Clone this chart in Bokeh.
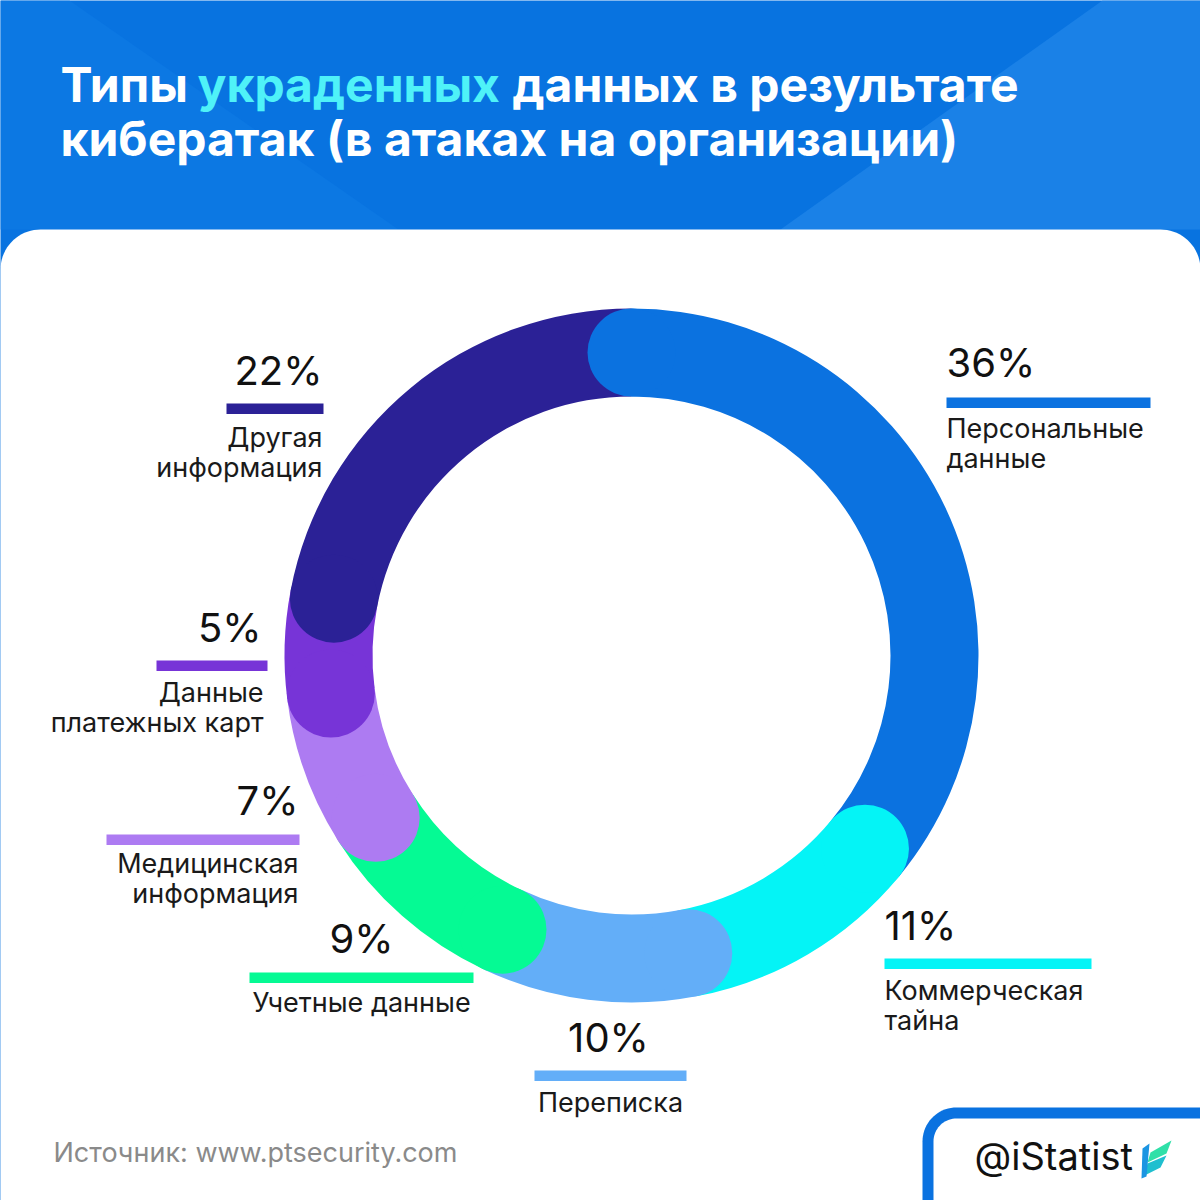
import numpy as np
from bokeh.plotting import figure
from bokeh.models import Range1d, ColumnDataSource
from bokeh.core.properties import value, field
from bokeh.embed import file_html
from bokeh.resources import INLINE

# ---------------- data ----------------
categories = ["Персональные данные", "Коммерческая тайна", "Переписка", "Учетные данные",
              "Медицинская информация", "Данные платежных карт", "Другая информация"]
shares = [36, 11, 10, 9, 7, 5, 22]
colors = ["#0b72e0", "#04f4f6", "#63aef8", "#05fa94", "#ad7bf2", "#7734d7", "#2b2196"]
label_lines = [["Персональные", "данные"], ["Коммерческая", "тайна"], ["Переписка"],
               ["Учетные данные"], ["Медицинская", "информация"],
               ["Данные", "платежных карт"], ["Другая", "информация"]]
title_line1 = ["Типы", "украденных", "данных в результате"]
title_line2 = "кибератак (в атаках на организации)"
source_text = "Источник: www.ptsecurity.com"
brand_text = "@iStatist"

# ---------------- layout (pixel coords, y down) ----------------
W = H = 1200
K = 0.38  # baseline correction (fraction of font size)

def Y(py):
    return H - np.asarray(py, dtype=float)

def YT(py, size):
    return H - (np.asarray(py, dtype=float) - K * size)

lay_align = ["left", "left", "center", "center", "right", "right", "right"]
lay_pct_x = [946, 884, 608, 361, 298, 261, 322]
lay_pct_y = [377, 940, 1052, 953, 815, 642, 385]
lay_text_x = [946, 884, 610, 361, 298, 263, 322]
lay_line1_y = [438, 1000, 1112, 1012, 873, 702, 447]
lay_line_gap = 30
lay_bar_x0 = [946, 884, 534, 249, 106, 156, 226]
lay_bar_x1 = [1150, 1091, 686, 473, 299, 267, 323]
lay_bar_top = [397, 958, 1070, 972, 834, 660, 403]
lay_bar_h = 10.5

FONT = "Inter"
TS = 48     # title size
PS = 40     # percent size
LS = 27     # label size
SS = 27     # source size
BS = 38     # brand size

p = figure(width=W, height=H, x_range=Range1d(0, W), y_range=Range1d(0, H),
           output_backend="svg", toolbar_location=None, min_border=0)
p.axis.visible = False
p.grid.visible = False
p.outline_line_color = None
p.background_fill_color = "#0873e0"
p.border_fill_color = "white"

# header shading
p.patch([0, 69, 398, 0], list(Y([0, 0, 229, 229])), color="#0c78e3", line_color=None)
p.patch([1102, 1200, 1200, 780], list(Y([0, 0, 229, 229])), color="#1a81e7", line_color=None)

# white card with rounded top corners
def top_rounded(x0, y0, x1, y1, r, left=True, right=True):
    xs, ys = [], []
    if left:
        a = np.linspace(np.pi, np.pi / 2, 20)
        xs += list(x0 + r + r * np.cos(a)); ys += list(y0 + r - r * np.sin(a))
    else:
        xs.append(x0); ys.append(y0)
    if right:
        a = np.linspace(np.pi / 2, 0, 20)
        xs += list(x1 - r + r * np.cos(a)); ys += list(y0 + r - r * np.sin(a))
    else:
        xs.append(x1); ys.append(y0)
    xs += [x1, x0]; ys += [y1, y1]
    return xs, list(Y(ys))

cx_, cy_ = top_rounded(0, 229, 1200, 1200, 40)
p.patch(cx_, cy_, color="white", line_color=None)

# ---------------- title ----------------
for tx, tt, tc in [(60, title_line1[0], "white"), (197, title_line1[1], "#4ff2f8"),
                   (512, title_line1[2], "white")]:
    p.text(x=[tx], y=list(YT([102], TS)), text=[tt], text_color=tc,
           text_font=value(FONT), text_font_style="bold", text_font_size=f"{TS}px",
           text_baseline="alphabetic")
p.text(x=[60], y=list(YT([156], TS)), text=[title_line2], text_color="white",
       text_font=value(FONT), text_font_style="bold", text_font_size=f"{TS}px",
       text_baseline="alphabetic")

# ---------------- donut ----------------
cx, cy = 631.0, float(Y(655))
r_out, r_in = 347.0, 259.0
cum = np.cumsum([0] + shares) / sum(shares) * 360.0
start = np.radians(90.0 - cum[:-1])
end = np.radians(90.0 - cum[1:])
wedges = ColumnDataSource(dict(x=[cx] * len(shares), y=[cy] * len(shares),
                               start=start, end=end, color=colors, cat=categories))
p.annular_wedge(x="x", y="y", inner_radius=r_in, outer_radius=r_out,
                start_angle="start", end_angle="end", direction="clock",
                color="color", line_color=None, source=wedges)
rm = (r_in + r_out) / 2
rc = (r_out - r_in) / 2
caps = ColumnDataSource(dict(x=cx + rm * np.cos(start), y=cy + rm * np.sin(start), color=colors))
p.circle(x="x", y="y", radius=rc, color="color", line_color=None, source=caps)

# ---------------- labels ----------------
pct = ColumnDataSource(dict(x=lay_pct_x, y=YT(lay_pct_y, PS), text=[f"{s}%" for s in shares],
                            align=lay_align))
p.text(x="x", y="y", text="text", text_align=field("align"), text_baseline="alphabetic",
       text_font=value(FONT), text_font_size=f"{PS}px", text_color="#111111", source=pct)

bars = ColumnDataSource(dict(left=lay_bar_x0, right=lay_bar_x1, top=Y(lay_bar_top),
                             bottom=Y(np.array(lay_bar_top) + lay_bar_h), color=colors))
p.quad(left="left", right="right", top="top", bottom="bottom", color="color",
       line_color=None, source=bars)

lx, ly, lt, la = [], [], [], []
for i, lines in enumerate(label_lines):
    for j, t in enumerate(lines):
        lx.append(lay_text_x[i])
        ly.append(float(YT(lay_line1_y[i] + j * lay_line_gap, LS)))
        lt.append(t); la.append(lay_align[i])
lab = ColumnDataSource(dict(x=lx, y=ly, text=lt, align=la))
p.text(x="x", y="y", text="text", text_align=field("align"), text_baseline="alphabetic",
       text_font=value(FONT), text_font_size=f"{LS}px", text_color="#1a1a1a", source=lab)

# ---------------- footer ----------------
p.text(x=[53], y=list(YT([1162], SS)), text=[source_text], text_baseline="alphabetic",
       text_font=value(FONT), text_font_size=f"{SS}px", text_color="#8a8a8a")

bx, by = top_rounded(922, 1107, 1260, 1260, 34, right=False)
p.patch(bx, by, color="#0a72e0", line_color=None)
bx2, by2 = top_rounded(933, 1118, 1260, 1260, 23, right=False)
p.patch(bx2, by2, color="white", line_color=None)
p.text(x=[974], y=list(YT([1170], BS)), text=[brand_text], text_baseline="alphabetic",
       text_font=value(FONT), text_font_size=f"{BS}px", text_color="#111111")

# small leaf mark
p.patch([1150, 1171, 1166, 1147], list(Y([1152, 1140, 1153, 1162])), color="#2fe0a8", line_color=None)
p.patch([1147, 1166, 1160, 1144], list(Y([1163, 1155, 1167, 1175])), color="#1fbfcf", line_color=None)
p.patch([1142, 1149, 1146, 1141], list(Y([1148, 1143, 1176, 1178])), color="#1b95e2", line_color=None)

open("out.html", "w").write(file_html(p, INLINE))
